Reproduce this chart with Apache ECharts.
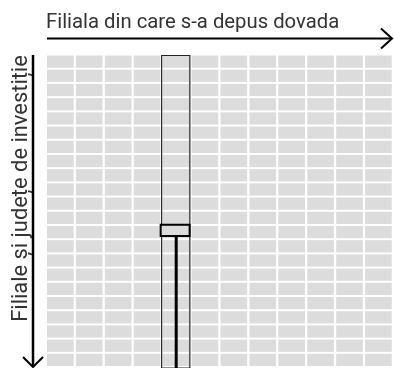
<!DOCTYPE html>
<html><head><meta charset="utf-8">
<style>html,body{margin:0;padding:0;background:#fff}#c{width:394px;height:368px}</style>
<script src="https://cdn.jsdelivr.net/npm/echarts@6/dist/echarts.min.js"></script>
</head><body><div id="c"></div>
<script>
// Data
const branches = ['F1','F2','F3','F4','F5','F6','F7','F8','F9','F10','F11','F12'];
const rowsCats = ['R1','R2','R3','R4','R5','R6','R7','R8','R9','R10','R11','R12','R13','R14','R15','R16','R17','R18','R19','R20','R21','R22'];
const selectedBranch = 4;
const markerRange = [11.92, 12.70];
const xTitle = 'Filiala din care s-a depus dovada';
const yTitle = 'Filiale și județe de investiție';

const cellData = [];
branches.forEach((b, i) => rowsCats.forEach((r, j) => cellData.push([i, j])));

const chart = echarts.init(document.getElementById('c'), null, {renderer: 'canvas'});
const GAPX = 2.25, GAPY = 1.95;
const FONT = 'Roboto';
chart.setOption({
  animation: false,
  grid: {left: 47, top: 55.5, width: 351, height: 317.9},
  xAxis: {type: 'value', min: 0, max: branches.length, show: false},
  yAxis: {type: 'value', min: 0, max: rowsCats.length, inverse: true, show: false},
  series: [
    {
      type: 'custom', data: cellData, silent: true,
      renderItem(params, api) {
        const p0 = api.coord([api.value(0), api.value(1)]);
        const p1 = api.coord([api.value(0) + 1, api.value(1) + 1]);
        return {type: 'rect', shape: {x: p0[0], y: p0[1], width: p1[0] - p0[0] - GAPX, height: p1[1] - p0[1] - GAPY}, style: {fill: '#dcdcdc'}};
      }
    },
    {
      type: 'custom', data: [[selectedBranch, markerRange[0], markerRange[1]]], silent: true, z: 5,
      renderItem(params, api) {
        const c = api.value(0);
        const a = api.coord([c, 0]);
        const b = api.coord([c + 1, rowsCats.length]);
        const cellW = b[0] - a[0] - GAPX;
        const m0 = api.coord([c, api.value(1)]);
        const m1 = api.coord([c, api.value(2)]);
        const cx = a[0] + cellW / 2 + 0.2;
        return {type: 'group', children: [
          {type: 'rect', shape: {x: a[0] - 1, y: a[1], width: cellW + 1.5, height: b[1] - a[1]}, style: {fill: null, stroke: '#222', lineWidth: 1.2}},
          {type: 'line', shape: {x1: cx, y1: m1[1], x2: cx, y2: b[1]}, style: {stroke: '#000', lineWidth: 3}},
          {type: 'rect', shape: {x: a[0] - 2, y: m0[1], width: cellW + 2.3, height: m1[1] - m0[1]}, style: {fill: '#dcdcdc', stroke: '#000', lineWidth: 2}}
        ]};
      }
    }
  ],
  graphic: [
    {type: 'text', left: 46, top: 13, style: {text: xTitle, fill: '#333', font: '20.3px ' + FONT}},
    {type: 'line', shape: {x1: 47, y1: 38.5, x2: 391, y2: 38.5}, style: {stroke: '#000', lineWidth: 2}},
    {type: 'polyline', shape: {points: [[381, 28.5], [392, 38.5], [381, 48.5]]}, style: {stroke: '#000', lineWidth: 2, fill: null}},
    {type: 'text', x: 33, y: 188.5, rotation: Math.PI / 2, style: {text: yTitle, fill: '#333', font: '21.9px ' + FONT, align: 'center', verticalAlign: 'bottom'}},
    {type: 'line', shape: {x1: 33, y1: 55, x2: 33, y2: 367}, style: {stroke: '#000', lineWidth: 2.5}},
    {type: 'polyline', shape: {points: [[23, 357], [33, 367], [43, 357]]}, style: {stroke: '#000', lineWidth: 2, fill: null}}
  ]
});
</script></body></html>
